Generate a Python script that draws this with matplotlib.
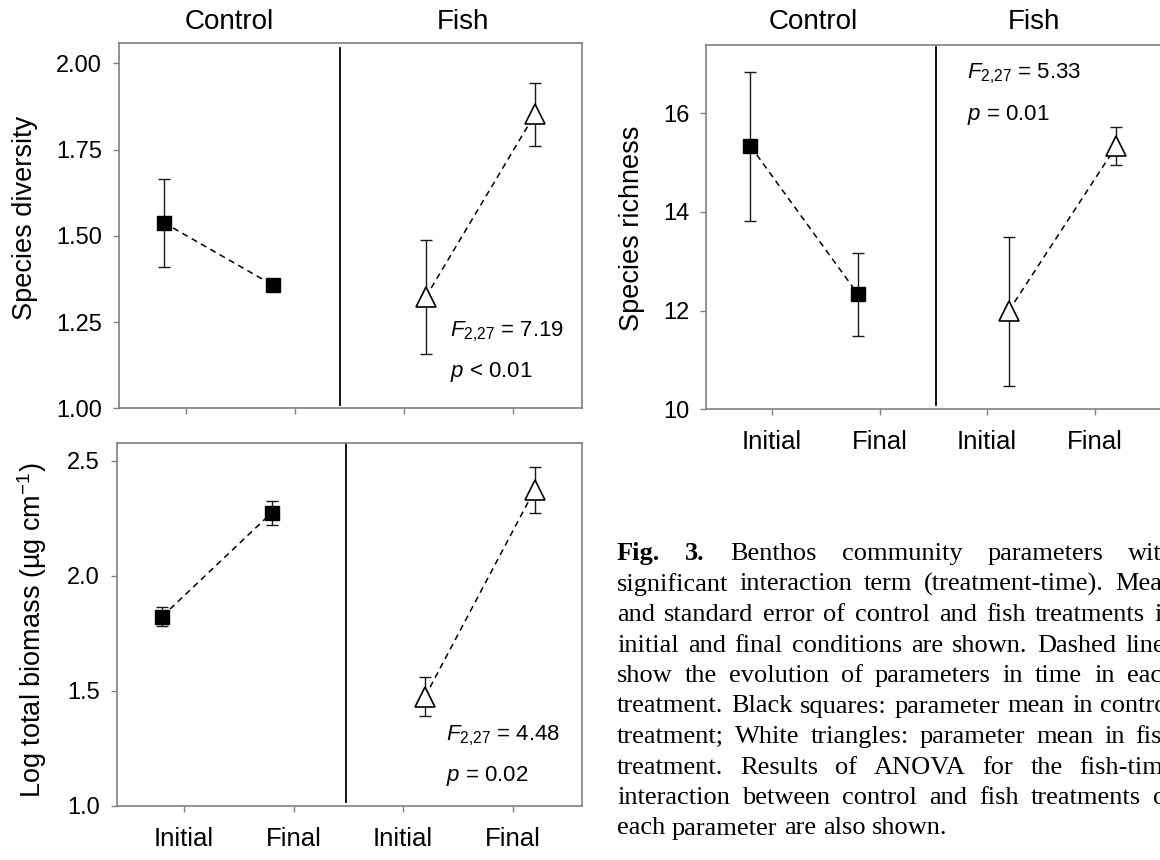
import matplotlib
matplotlib.use("Agg")
import matplotlib.pyplot as plt

plt.rcParams['font.family'] = ['Liberation Sans', 'DejaVu Sans']
plt.rcParams['mathtext.fontset'] = 'custom'
plt.rcParams['mathtext.rm'] = 'Liberation Sans'
plt.rcParams['mathtext.it'] = 'Liberation Sans:italic'

# --- data (means and standard errors) ---
times = ["Initial", "Final"]
treatments = ["Control", "Fish"]

diversity_control = [1.538, 1.357]
diversity_control_se = [0.127, 0.012]
diversity_fish = [1.322, 1.852]
diversity_fish_se = [0.166, 0.092]
diversity_ticks = [1.00, 1.25, 1.50, 1.75, 2.00]
diversity_stats = [r"$F_{2{,}27}$ = 7.19", r"$p$ < 0.01"]

biomass_control = [1.823, 2.274]
biomass_control_se = [0.040, 0.052]
biomass_fish = [1.475, 2.373]
biomass_fish_se = [0.084, 0.101]
biomass_ticks = [1.0, 1.5, 2.0, 2.5]
biomass_stats = [r"$F_{2{,}27}$ = 4.48", r"$p$ = 0.02"]

richness_control = [15.33, 12.33]
richness_control_se = [1.51, 0.84]
richness_fish = [11.99, 15.33]
richness_fish_se = [1.51, 0.38]
richness_ticks = [10, 12, 14, 16]
richness_stats = [r"$F_{2{,}27}$ = 5.33", r"$p$ = 0.01"]

caption_lines = [
    "Fig. 3. Benthos community parameters with",
    "significant interaction term (treatment-time). Mean",
    "and standard error of control and fish treatments in",
    "initial and final conditions are shown. Dashed lines",
    "show the evolution of parameters in time in each",
    "treatment. Black squares: parameter mean in control",
    "treatment; White triangles: parameter mean in fish",
    "treatment. Results of ANOVA for the fish-time",
    "interaction between control and fish treatments of",
    "each parameter are also shown.",
]

W, H = 1160, 860
fig = plt.figure(figsize=(W / 100, H / 100), dpi=100)


def box(left, top, right, bottom):
    # pixel box -> figure fraction
    return [left / W, 1 - bottom / H, (right - left) / W, (bottom - top) / H]


def panel(ax, ctrl, ctrl_se, fish, fish_se, yticks, fmt, ylim, divider, dspan,
          stats, stat_xy, xlabels=True):
    pos = [1, 2, 3, 4]
    xc = [p - 0.2 for p in pos[:2]]
    xf = [p + 0.2 for p in pos[2:]]

    ax.errorbar(xc, ctrl, yerr=ctrl_se, fmt='none', ecolor='#1a1a1a',
                elinewidth=1.0, capsize=4.5, capthick=1.0, zorder=2)
    ax.errorbar(xf, fish, yerr=fish_se, fmt='none', ecolor='#1a1a1a',
                elinewidth=1.0, capsize=4.5, capthick=1.0, zorder=2)
    ax.plot(xc, ctrl, ls=(0, (4, 3)), color='black', lw=1.1, zorder=1)
    ax.plot(xf, fish, ls=(0, (4, 3)), color='black', lw=1.1, zorder=1)
    ax.plot(xc, ctrl, 's', ms=10.5, mfc='black', mec='black', mew=1, zorder=3)
    ax.plot(xf, fish, '^', ms=15, mfc='white', mec='black', mew=1.2, zorder=3)

    ax.axvline(divider, ymin=dspan[0], ymax=dspan[1], color='black', lw=1.3)

    ax.set_xlim(0.385, 4.63)
    ax.set_ylim(*ylim)
    ax.set_xticks(pos)
    ax.set_xticklabels(times * 2 if xlabels else [""] * 4)
    ax.set_yticks(yticks)
    ax.set_yticklabels([fmt.format(v) for v in yticks])
    ax.tick_params(axis='both', colors='#808080', length=4, width=1,
                   direction='out')
    ax.tick_params(axis='y', labelsize=17, labelcolor='black', pad=8)
    ax.tick_params(axis='x', labelsize=18.5, labelcolor='black', pad=11)
    for s in ax.spines.values():
        s.set_color('#808080')
        s.set_linewidth(1.2)

    ax.text(stat_xy[0], stat_xy[1], stats[0], fontsize=16, va='baseline')
    ax.text(stat_xy[0], stat_xy[2], stats[1], fontsize=16, va='baseline')


# top-left: species diversity
ax1 = fig.add_axes(box(118.6, 43.3, 581.7, 408.3))
panel(ax1, diversity_control, diversity_control_se, diversity_fish,
      diversity_fish_se, diversity_ticks, "{:.2f}", (1.0, 2.058), 2.415,
      (0.009, 0.988), diversity_stats, (3.42, 1.208, 1.092), xlabels=False)

# bottom-left: biomass
ax2 = fig.add_axes(box(116.7, 442.7, 581.7, 806))
panel(ax2, biomass_control, biomass_control_se, biomass_fish, biomass_fish_se,
      biomass_ticks, "{:.1f}", (1.0, 2.578), 2.474, (0.012, 1.0),
      biomass_stats, (3.387, 1.283, 1.109))

# top-right: species richness (runs off the right edge)
ax3 = fig.add_axes(box(705.8, 45, 1162.5, 409.3))
panel(ax3, richness_control, richness_control_se, richness_fish,
      richness_fish_se, richness_ticks, "{:d}", (10, 17.38), 2.526,
      (0.012, 0.995), richness_stats, (2.81, 16.71, 15.86))

# column headers and y labels
for x, t in zip([229.6, 463], treatments):
    fig.text(x / W, 1 - 21.7 / H, t, fontsize=20, ha='center', va='center')
for x, t in zip([813, 1034], treatments):
    fig.text(x / W, 1 - 22 / H, t, fontsize=20, ha='center', va='center')

fig.text(25 / W, 1 - 218 / H, "Species diversity", fontsize=19.5,
         rotation=90, ha='center', va='center')
fig.text(32 / W, 1 - 630 / H, r"Log total biomass (µg cm$^{\mathrm{-1}}$)",
         fontsize=19.5, rotation=90, ha='center', va='center')
fig.text(632 / W, 1 - 228 / H, "Species richness", fontsize=19.5,
         rotation=90, ha='center', va='center')

# caption, justified, cut by the right edge like the original
cap_left, cap_right = 617, 1175
cap_font = dict(family='Liberation Serif', fontsize=19)
fig.canvas.draw()
renderer = fig.canvas.get_renderer()


def width_of(s, bold=False):
    t = fig.text(0, 0, s, fontweight='bold' if bold else 'normal', **cap_font)
    w = t.get_window_extent(renderer).width
    t.remove()
    return w


space = width_of("a a") - width_of("aa")
for i, line in enumerate(caption_lines):
    words = line.split()
    bold = [i == 0 and j < 2 for j in range(len(words))]
    widths = [width_of(w, b) for w, b in zip(words, bold)]
    if i < len(caption_lines) - 1:
        gap = (cap_right - cap_left - sum(widths)) / (len(words) - 1)
    else:
        gap = space
    x = cap_left
    y = 560 + i * 30.5
    for w, b, wd in zip(words, bold, widths):
        fig.text(x / W, 1 - y / H, w, fontweight='bold' if b else 'normal',
                 va='baseline', **cap_font)
        x += wd + gap

fig.savefig("out.png", dpi=100)
